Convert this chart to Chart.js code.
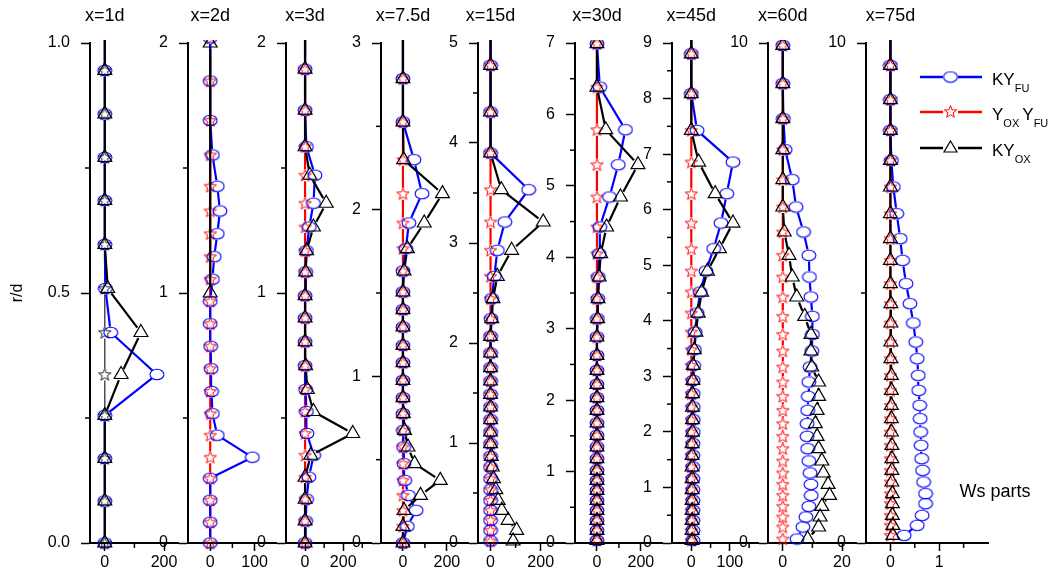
<!DOCTYPE html>
<html>
<head>
<meta charset="utf-8">
<script src="https://cdn.jsdelivr.net/npm/chart.js@4.4.0/dist/chart.umd.min.js"></script>
<style>
  body { margin: 0; background: #fff; }
  #wrap { position: relative; width: 1054px; height: 574px; overflow: hidden; }
  #wrap canvas { position: absolute; top: 0; }
</style>
</head>
<body>
<div id="wrap"></div>
<script>
const FONT = '"Liberation Sans", Arial, sans-serif';

const titles = ['x=1d', 'x=2d', 'x=3d', 'x=7.5d', 'x=15d', 'x=30d', 'x=45d', 'x=60d', 'x=75d'];

// radial stations r/d and the three profiles at each axial position
const r1 = [0, 0.084, 0.169, 0.255, 0.337, 0.421, 0.509, 0.597, 0.685, 0.771, 0.858, 0.945, 1.03];
const kyfu1 = [0, 0, 0, 0, 176, 20, 2, 0, 0, 0, 0, 0, 0];
const yoxyfu1 = [0, 0, 0, 0, 0, 0, 0, 0, 0, 0, 0, 0, 0];
const kyox1 = [0, 0, 0, 0, 55, 122, 10, 0, 0, 0, 0, 0, 0];

const r2 = [0, 0.083, 0.171, 0.259, 0.343, 0.431, 0.517, 0.606, 0.697, 0.787, 0.877, 0.967, 1.055, 1.145, 1.237, 1.328, 1.427, 1.552, 1.69, 1.848, 2.02];
const kyfu2 = [0, 0, 0, 0, 95, 16, 5, 3, 2, 1, 0, 0, 5, 9, 16, 22, 16, 5, 0, 0, 0];
const yoxyfu2 = [0, 0, 0, 0, 0, 0, 0, 0, 0, 0, 0, 0, 0, 0, 0, 0, 0, 0, 0, 0, 0];
const r2ox = [1, 2];
const kyox2 = [0, 0];

const r3 = [0, 0.088, 0.175, 0.263, 0.351, 0.438, 0.526, 0.614, 0.709, 0.805, 0.9, 0.989, 1.084, 1.169, 1.264, 1.359, 1.471, 1.585, 1.731, 1.895, 2.07];
const kyfu3 = [0, 3, 8, 20, 45, 10, 7, 3, 0, 0, 0, 0, 3, 7, 22, 44, 52, 7, 0, 0, 0];
const yoxyfu3 = [0, 0, 0, 0, 0, 0, 0, 0, 0, 0, 0, 0, 0, 0, 0, 0, 0, 0, 0, 0, 0];
const kyox3 = [0, 0, 0, 0, 30, 250, 44, 12, 3, 0, 0, 0, 3, 8, 44, 111, 25, 0, 0, 0, 0];

const r4 = [0, 0.1, 0.196, 0.286, 0.376, 0.476, 0.576, 0.676, 0.776, 0.872, 0.976, 1.082, 1.186, 1.296, 1.4, 1.506, 1.632, 1.766, 1.92, 2.096, 2.3, 2.526, 2.786, 3.06];
const kyfu4 = [0, 20, 60, 25, 8, 5, 3, 2, 0, 0, 0, 0, 0, 0, 0, 0, 0, 13, 27, 87, 50, 0, 0, 0];
const yoxyfu4 = [0, 0, 0, 0, 0, 0, 0, 0, 0, 0, 0, 0, 0, 0, 0, 0, 0, 0, 0, 0, 0, 0, 0, 0];
const kyox4 = [0, 0, 5, 80, 170, 53, 23, 7, 2, 0, 0, 0, 0, 0, 0, 0, 5, 20, 97, 180, 3, 0, 0, 0];

const r5 = [0.02, 0.127, 0.227, 0.327, 0.427, 0.533, 0.643, 0.76, 0.867, 0.993, 1.11, 1.233, 1.36, 1.487, 1.62, 1.753, 1.9, 2.067, 2.243, 2.443, 2.667, 2.927, 3.21, 3.533, 3.9, 4.31, 4.777, 5.25];
const kyfu5 = [0, 0, 0, 0, 0, 0, 0, 0, 0, 0, 0, 0, 0, 0, 0, 0, 0, 0, 2, 5, 15, 27, 57, 152, 0, 0, 0, 0];
const yoxyfu5 = [0, 0, 0, 0, 0, 0, 0, 0, 0, 0, 0, 0, 0, 0, 0, 0, 0, 0, 0, 0, 0, 0, 0, 0, 0, 0, 0, 0];
const kyox5 = [90, 104, 70, 45, 30, 21, 12, 7, 3, 0, 0, 0, 0, 0, 0, 0, 0, 0, 5, 10, 27, 84, 210, 43, 0, 0, 0, 0];

const r6 = [0.037, 0.177, 0.317, 0.457, 0.597, 0.737, 0.877, 1.017, 1.18, 1.344, 1.507, 1.68, 1.857, 2.035, 2.221, 2.417, 2.627, 2.884, 3.14, 3.42, 3.724, 4.05, 4.424, 4.844, 5.296, 5.786, 6.383, 6.99];
const kyfu6 = [0, 0, 0, 0, 0, 0, 0, 0, 0, 0, 0, 0, 0, 0, 0, 0, 0, 0, 2, 4, 6, 10, 13, 57, 97, 130, 13, 0];
const yoxyfu6 = [0, 0, 0, 0, 0, 0, 0, 0, 0, 0, 0, 0, 0, 0, 0, 0, 0, 0, 0, 0, 0, 0, 0, 0, 0, 0, 0, 0];
const kyox6 = [0, 0, 0, 0, 0, 0, 0, 0, 0, 0, 0, 0, 0, 0, 0, 0, 0, 0, 3, 5, 10, 17, 44, 107, 187, 40, 0, 0];

const r7 = [0.048, 0.228, 0.408, 0.588, 0.768, 0.96, 1.158, 1.368, 1.578, 1.788, 1.997, 2.219, 2.447, 2.687, 2.927, 3.197, 3.479, 3.797, 4.139, 4.517, 4.895, 5.297, 5.759, 6.287, 6.857, 7.427, 8.087, 8.806, 9.5];
const kyfu7 = [4, 4, 4, 4, 4, 4, 4, 4, 4, 4, 5, 5, 5, 5, 5, 6, 8, 10, 15, 23, 38, 58, 77, 92, 108, 15, 0, 0, 0];
const yoxyfu7 = [0, 0, 0, 0, 0, 0, 0, 0, 0, 0, 0, 0, 0, 0, 0, 0, 0, 0, 0, 0, 0, 0, 0, 0, 0, 0, 0, 0, 0];
const kyox7 = [2, 2, 2, 2, 2, 2, 2, 2, 2, 2, 3, 3, 3, 3, 4, 5, 8, 12, 18, 27, 42, 73, 108, 62, 19, 0, 0, 0, 0];

const r8 = [0.08, 0.32, 0.52, 0.733, 0.953, 1.173, 1.4, 1.64, 1.887, 2.133, 2.387, 2.653, 2.933, 3.22, 3.52, 3.84, 4.173, 4.533, 4.92, 5.32, 5.753, 6.22, 6.72, 7.267, 7.867, 8.487, 9.187, 9.953];
const kyfu8 = [4.8, 6.8, 7.8, 8.8, 9.6, 9.5, 9.2, 8.8, 8.4, 8.2, 8.2, 8.4, 8.6, 8.8, 9.2, 9.8, 10, 10, 9.5, 9, 8.8, 7, 4.5, 3.2, 0.8, 0.2, 0, 0];
const yoxyfu8 = [0, 0, 0, 0, 0, 0, 0, 0, 0, 0, 0, 0, 0, 0, 0, 0, 0, 0, 0, 0, 0, 0, 0, 0, 0, 0, 0, 0];
const kyox8 = [8.4, 12.1, 12.6, 13.2, 15.8, 15.3, 13.7, 13.2, 12.1, 11.6, 11, 11.6, 12.1, 12.1, 9.8, 9.5, 9.5, 7.4, 4.7, 3.2, 2.1, 0.5, 0, 0, 0, 0, 0, 0];

const r9 = [0.153, 0.353, 0.553, 0.787, 0.987, 1.22, 1.453, 1.687, 1.953, 2.22, 2.487, 2.753, 3.053, 3.353, 3.687, 4.02, 4.4, 4.787, 5.187, 5.653, 6.087, 6.587, 7.12, 7.653, 8.253, 8.867, 9.553, 10.3];
const kyfu9 = [0.28, 0.55, 0.65, 0.72, 0.72, 0.68, 0.66, 0.64, 0.63, 0.62, 0.61, 0.6, 0.58, 0.57, 0.55, 0.52, 0.47, 0.4, 0.32, 0.25, 0.2, 0.13, 0.06, 0.02, 0, 0, 0, 0];
const yoxyfu9 = [0, 0, 0, 0, 0, 0, 0, 0, 0, 0, 0, 0, 0, 0, 0, 0, 0, 0, 0, 0, 0, 0, 0, 0, 0, 0, 0, 0];
const kyox9 = [0.05, 0.05, 0.04, 0.04, 0.04, 0.03, 0.03, 0.03, 0.03, 0.02, 0.02, 0.02, 0.02, 0.02, 0.01, 0.01, 0.01, 0.01, 0, 0, 0, 0, 0, 0, 0, 0, 0, 0];

// axis ranges and tick values
const rMax = [1, 2, 2, 3, 5, 7, 9, 10, 10];
const rMajor = [[0, 0.5, 1], [0, 1, 2], [0, 1, 2], [0, 1, 2, 3], [0, 1, 2, 3, 4, 5], [0, 1, 2, 3, 4, 5, 6, 7], [0, 1, 2, 3, 4, 5, 6, 7, 8, 9], [0, 10], [0, 10]];
const rMinor = [[0.25, 0.75], [0.5, 1.5], [0.5, 1.5], [0.5, 1.5, 2.5], [0.5, 1.5, 2.5, 3.5, 4.5], [0.5, 1.5, 2.5, 3.5, 4.5, 5.5, 6.5], [0.5, 1.5, 2.5, 3.5, 4.5, 5.5, 6.5, 7.5, 8.5], [5], [5]];
const wMin = [-50, -50, -100, -100, -50, -100, -50, -5, -0.5];
const wMax = [250, 150, 350, 300, 300, 300, 175, 25, 2];
const wMajor = [[0, 200], [0, 100], [0, 200], [0, 200], [0, 200], [0, 200], [0, 100], [0, 20], [0, 1]];
const wMinor = [[100], [50], [100, 300], [100], [100], [100], [50, 150], [10], [0.5, 1.5]];

const stations = [
  { r: r1, fu: kyfu1, yy: yoxyfu1, rox: r1, ox: kyox1 },
  { r: r2, fu: kyfu2, yy: yoxyfu2, rox: r2ox, ox: kyox2 },
  { r: r3, fu: kyfu3, yy: yoxyfu3, rox: r3, ox: kyox3 },
  { r: r4, fu: kyfu4, yy: yoxyfu4, rox: r4, ox: kyox4 },
  { r: r5, fu: kyfu5, yy: yoxyfu5, rox: r5, ox: kyox5 },
  { r: r6, fu: kyfu6, yy: yoxyfu6, rox: r6, ox: kyox6 },
  { r: r7, fu: kyfu7, yy: yoxyfu7, rox: r7, ox: kyox7 },
  { r: r8, fu: kyfu8, yy: yoxyfu8, rox: r8, ox: kyox8 },
  { r: r9, fu: kyfu9, yy: yoxyfu9, rox: r9, ox: kyox9 }
];

// panel layout (left axis positions in page pixels)
const axisLeft = [90, 188, 286, 381, 478, 575, 672, 768, 866];
const lastRight = 988;
const plotTop = 43, plotBottom = 543, pageW = 1054, pageH = 574;

// hollow marker images
function ellipseMarker() {
  const c = document.createElement('canvas');
  c.width = 16; c.height = 13;
  const g = c.getContext('2d');
  g.strokeStyle = '#0000ff'; g.lineWidth = 1.1;
  g.beginPath(); g.ellipse(8, 6.5, 6.9, 5.3, 0, 0, Math.PI * 2); g.stroke();
  return c;
}
function starMarker(color) {
  const c = document.createElement('canvas');
  c.width = 15; c.height = 15;
  const g = c.getContext('2d');
  g.strokeStyle = color; g.lineWidth = 1;
  g.beginPath();
  for (let k = 0; k < 10; k++) {
    const rad = k % 2 ? 2.7 : 6.5;
    const a = -Math.PI / 2 + k * Math.PI / 5;
    const px = 7.5 + rad * Math.cos(a), py = 8 + rad * Math.sin(a);
    if (k) g.lineTo(px, py); else g.moveTo(px, py);
  }
  g.closePath(); g.stroke();
  return c;
}
const circleImg = ellipseMarker();
const starImg = starMarker('#ff0000');
const darkStarImg = starMarker('#222222');

const clipBox = { left: 15, top: 3, right: 15, bottom: 8 };

// connecting lines stop short of the symbols at both ends
const GAP = 6;
function gapDash(ctx) {
  const len = Math.hypot(ctx.p1.x - ctx.p0.x, ctx.p1.y - ctx.p0.y);
  const tag = ctx.p0DataIndex * 1e-4;
  if (len <= 2 * GAP) return [0, len + 10 + tag];
  return [0, GAP, len - 2 * GAP + tag, 2000];
}

// short minor ticks on both axes
const minorTicks = {
  id: 'minorTicks',
  afterDraw(chart, args, opts) {
    const { ctx, chartArea, scales } = chart;
    ctx.save();
    ctx.strokeStyle = '#000';
    ctx.lineWidth = 1.5;
    opts.y.forEach(v => {
      const py = scales.y.getPixelForValue(v);
      ctx.beginPath(); ctx.moveTo(chartArea.left - 5, py); ctx.lineTo(chartArea.left, py); ctx.stroke();
    });
    opts.x.forEach(v => {
      const px = scales.x.getPixelForValue(v);
      ctx.beginPath(); ctx.moveTo(px, chartArea.bottom); ctx.lineTo(px, chartArea.bottom + 5); ctx.stroke();
    });
    ctx.restore();
  }
};

// station name centred over the zero line
const stationTitle = {
  id: 'stationTitle',
  afterDraw(chart, args, opts) {
    const ctx = chart.ctx;
    ctx.save();
    ctx.font = '18px ' + FONT;
    ctx.fillStyle = '#000';
    ctx.textAlign = 'center';
    ctx.textBaseline = 'middle';
    ctx.fillText(opts.text, chart.scales.x.getPixelForValue(0), 16);
    ctx.restore();
  }
};

// legend with subscripts, plus the unit note
const legendBox = {
  id: 'legendBox',
  afterDraw(chart) {
    const ctx = chart.ctx;
    const x0 = chart.width - 134;
    const rows = [
      { color: '#0000ff', mark: 'circle', y: 77, parts: [['KY', 0], ['FU', 1]] },
      { color: '#ff0000', mark: 'star', y: 112, parts: [['Y', 0], ['OX', 1], [' ', 1], ['Y', 0], ['FU', 1]] },
      { color: '#000000', mark: 'triangle', y: 148, parts: [['KY', 0], ['OX', 1]] }
    ];
    ctx.save();
    rows.forEach(row => {
      ctx.strokeStyle = row.color;
      ctx.lineWidth = 2.5;
      ctx.beginPath();
      ctx.moveTo(x0, row.y); ctx.lineTo(x0 + 23, row.y);
      ctx.moveTo(x0 + 38, row.y); ctx.lineTo(x0 + 62, row.y);
      ctx.stroke();
      const mx = x0 + 30.5;
      if (row.mark === 'circle') ctx.drawImage(circleImg, mx - 8, row.y - 6.5);
      if (row.mark === 'star') ctx.drawImage(starImg, mx - 7.5, row.y - 8);
      if (row.mark === 'triangle') {
        ctx.lineWidth = 1.2;
        ctx.beginPath();
        ctx.moveTo(mx, row.y - 7); ctx.lineTo(mx + 6.5, row.y + 4); ctx.lineTo(mx - 6.5, row.y + 4);
        ctx.closePath(); ctx.stroke();
      }
      let tx = x0 + 72;
      ctx.fillStyle = '#000';
      ctx.textBaseline = 'alphabetic';
      row.parts.forEach(([txt, sub]) => {
        ctx.font = (sub ? '11px ' : '17px ') + FONT;
        ctx.fillText(txt, tx, row.y + (sub ? 15 : 8));
        tx += ctx.measureText(txt).width;
      });
    });
    ctx.font = '18px ' + FONT;
    ctx.textAlign = 'center';
    ctx.textBaseline = 'middle';
    ctx.fillText('Ws parts', chart.width - 59, 492);
    ctx.restore();
  }
};

function profile(label, r, vals, style) {
  return Object.assign({
    label: label,
    data: r.map((rv, k) => ({ x: vals[k], y: rv })),
    clip: clipBox,
    tension: 0,
    fill: false,
    segment: { borderDash: gapDash }
  }, style);
}

const wrap = document.getElementById('wrap');

stations.forEach((st, i) => {
  const left = axisLeft[i];
  const right = i < 8 ? axisLeft[i + 1] : lastRight;
  const padL = i === 0 ? left : 45;
  const canvasLeft = left - padL;
  const canvasW = i === 8 ? pageW - canvasLeft : padL + right - left;

  const canvas = document.createElement('canvas');
  canvas.width = canvasW;
  canvas.height = pageH;
  canvas.style.left = canvasLeft + 'px';
  wrap.appendChild(canvas);

  const plugins = [minorTicks, stationTitle];
  if (i === 8) plugins.push(legendBox);

  // at x=1d the product profile is drawn dark
  const yyColor = i === 0 ? '#222222' : '#ff0000';

  new Chart(canvas, {
    type: 'line',
    data: {
      datasets: [
        profile('KYox', st.rox, st.ox, {
          borderColor: '#000', borderWidth: 2.2,
          pointStyle: 'triangle', pointRadius: 8, pointBorderWidth: 1.2,
          pointBorderColor: '#000', pointBackgroundColor: 'rgba(0,0,0,0)', order: 0
        }),
        profile('KYfu', st.r, st.fu, {
          borderColor: '#0000ff', borderWidth: 2.2,
          pointStyle: circleImg, pointRadius: 6, order: 1
        }),
        profile('YoxYfu', st.r, st.yy, {
          borderColor: yyColor, borderWidth: i === 0 ? 1.2 : 2.2,
          pointStyle: i === 0 ? darkStarImg : starImg, pointRadius: 6, order: 2
        })
      ]
    },
    options: {
      responsive: false,
      animation: false,
      events: [],
      layout: { padding: { top: plotTop, left: 0, right: canvasW - padL - (right - left), bottom: 0 } },
      plugins: {
        legend: { display: false },
        tooltip: { enabled: false },
        minorTicks: { x: wMinor[i], y: rMinor[i] },
        stationTitle: { text: titles[i] }
      },
      scales: {
        x: {
          type: 'linear',
          min: wMin[i],
          max: wMax[i],
          afterBuildTicks: s => { s.ticks = wMajor[i].map(v => ({ value: v })); },
          afterFit: s => { s.height = pageH - plotBottom; },
          border: { display: true, color: '#000', width: 2 },
          grid: { drawOnChartArea: false, tickLength: 8, tickWidth: 1.5, tickColor: '#000' },
          ticks: { color: '#000', font: { family: FONT, size: 16 }, padding: 2, maxRotation: 0, autoSkip: false }
        },
        y: {
          type: 'linear',
          min: 0,
          max: rMax[i],
          afterBuildTicks: s => { s.ticks = rMajor[i].map(v => ({ value: v })); },
          afterFit: s => { s.width = padL; },
          border: { display: true, color: '#000', width: 2 },
          grid: { drawOnChartArea: false, tickLength: 9, tickWidth: 1.5, tickColor: '#000' },
          ticks: {
            color: '#000', font: { family: FONT, size: 16 }, padding: 11, autoSkip: false,
            callback: v => (i === 0 ? v.toFixed(1) : String(v))
          },
          title: {
            display: i === 0, text: 'r/d', color: '#000',
            font: { family: FONT, size: 16 }, padding: { top: 8, bottom: 0 }
          }
        }
      }
    },
    plugins: plugins
  });
});
</script>
</body>
</html>
